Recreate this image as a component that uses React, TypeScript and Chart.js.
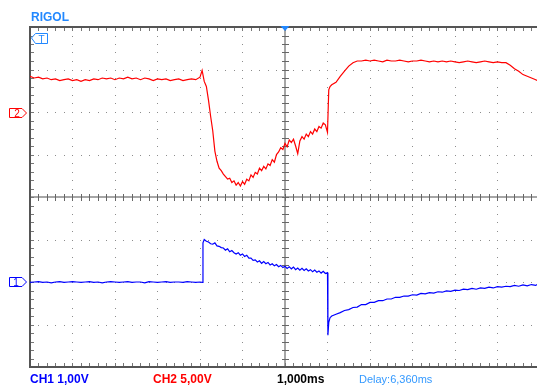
import React, { useEffect, useRef } from "react";
import { Chart, registerables } from "chart.js";

Chart.register(...registerables);

// Time axis in ms (1 ms / div), centre of screen = 0
const X_MIN = -6;
const X_MAX = 5.93;

// CH2 (red, 5 V/div, ground marker at +2 div)
const ch2Time = [
  -6.0, -5.9, -5.8, -5.7, -5.6, -5.5, -5.4, -5.3, -5.2, -5.1,
  -5.0, -4.9, -4.8, -4.7, -4.6, -4.5, -4.4, -4.3, -4.2, -4.1,
  -4.0, -3.9, -3.8, -3.7, -3.6, -3.5, -3.4, -3.3, -3.2, -3.1,
  -3.0, -2.9, -2.8, -2.7, -2.6, -2.5, -2.4, -2.3, -2.2, -2.1,
  -2.0,
  -1.95, -1.9, -1.85, -1.8, -1.75, -1.7, -1.65, -1.6, -1.55, -1.5, -1.45,
  -1.4, -1.35, -1.3, -1.25, -1.2, -1.15, -1.1, -1.05, -1.0, -0.95,
  -0.9, -0.85, -0.8, -0.75, -0.7, -0.65, -0.6, -0.55, -0.5, -0.45,
  -0.4, -0.35, -0.3, -0.25, -0.2, -0.15, -0.1, -0.05, 0.0, 0.05,
  0.1, 0.15, 0.2, 0.25, 0.3, 0.35, 0.4, 0.45, 0.5, 0.55,
  0.6, 0.65, 0.7, 0.75, 0.8, 0.85, 0.9, 0.95, 1.0,
  1.03, 1.06, 1.1,
  1.2, 1.3, 1.4, 1.5, 1.6, 1.7,
  1.8, 1.9, 2.0, 2.1, 2.2, 2.3, 2.4, 2.5, 2.6, 2.7,
  2.8, 2.9, 3.0, 3.1, 3.2, 3.3, 3.4, 3.5, 3.6, 3.7,
  3.8, 3.9, 4.0, 4.1, 4.2, 4.3, 4.4, 4.5, 4.6, 4.7,
  4.8, 4.9, 5.0, 5.1,
  5.2, 5.3, 5.4, 5.5, 5.6, 5.7, 5.8, 5.9, 5.93,
];
const ch2Volts = [
  4.2, 4.0, 4.1, 3.9, 4.0, 3.8, 3.9, 3.7, 3.8, 3.9,
  3.7, 3.8, 3.6, 3.8, 3.7, 3.9, 3.8, 4.0, 3.9, 4.0,
  3.8, 4.0, 3.9, 4.1, 3.9, 4.0, 3.8, 4.0, 3.9, 3.7,
  3.9, 3.8, 3.9, 3.7, 3.8, 3.9, 3.7, 3.8, 3.9, 3.8,
  4.1,
  4.9, 3.6, 3.0, 1.4, -0.5, -2.2, -4.6, -5.8, -6.6, -6.9, -7.3,
  -7.6, -7.9, -7.8, -8.3, -8.1, -8.6, -8.3, -8.7, -8.2, -8.5,
  -7.9, -8.1, -7.4, -7.7, -7.1, -7.3, -6.6, -6.9, -6.4, -6.7,
  -6.1, -6.3, -5.6, -5.9, -5.0, -4.7, -4.2, -4.4, -3.7, -4.1,
  -3.3, -3.6, -3.2, -4.0, -4.9, -3.4, -2.9, -3.2, -2.6, -2.9,
  -2.3, -2.6, -2.0, -2.3, -1.7, -1.9, -1.3, -1.5, -2.4,
  2.6, 3.0, 3.2,
  3.5, 4.2, 4.8, 5.4, 5.8, 6.0,
  6.0, 6.1, 6.0, 6.1, 6.0, 5.9, 6.1, 6.0, 6.0, 6.1,
  6.0, 5.9, 6.0, 6.0, 6.1, 6.0, 5.9, 6.0, 5.9, 6.0,
  5.9, 6.0, 5.9, 5.8, 5.9, 6.0, 5.9, 5.8, 5.9, 6.0,
  5.9, 5.8, 5.9, 5.8,
  5.8, 5.5, 5.1, 4.8, 4.4, 4.2, 4.0, 3.8, 3.7,
];

// CH1 (blue, 1 V/div, ground marker at -2 div)
const ch1Time = [
  -6.0, -5.9, -5.8, -5.7, -5.6, -5.5, -5.4, -5.3, -5.2, -5.1,
  -5.0, -4.9, -4.8, -4.7, -4.6, -4.5, -4.4, -4.3, -4.2, -4.1,
  -4.0, -3.9, -3.8, -3.7, -3.6, -3.5, -3.4, -3.3, -3.2, -3.1,
  -3.0, -2.9, -2.8, -2.7, -2.6, -2.5, -2.4, -2.3, -2.2, -2.1,
  -2.0,
  -1.95, -1.93,
  -1.9, -1.85, -1.8, -1.75, -1.7, -1.65, -1.6, -1.55, -1.5, -1.45,
  -1.4, -1.35, -1.3, -1.25, -1.2, -1.15, -1.1, -1.05, -1.0, -0.95,
  -0.9, -0.85, -0.8, -0.75, -0.7, -0.65, -0.6, -0.55, -0.5, -0.45,
  -0.4, -0.35, -0.3, -0.25, -0.2, -0.15, -0.1, -0.05, 0.0, 0.05,
  0.1, 0.15, 0.2, 0.25, 0.3, 0.35, 0.4, 0.45, 0.5, 0.55,
  0.6, 0.65, 0.7, 0.75, 0.8, 0.85, 0.9, 0.95, 1.0,
  1.01, 1.03, 1.06, 1.1,
  1.2, 1.3, 1.4, 1.5, 1.6, 1.7, 1.8, 1.9, 2.0, 2.1,
  2.2, 2.3, 2.4, 2.5, 2.6, 2.7, 2.8, 2.9, 3.0, 3.1,
  3.2, 3.3, 3.4, 3.5, 3.6, 3.7, 3.8, 3.9, 4.0, 4.1,
  4.2, 4.3, 4.4, 4.5, 4.6, 4.7, 4.8, 4.9, 5.0, 5.1,
  5.2, 5.3, 5.4, 5.5, 5.6, 5.7, 5.8, 5.9, 5.93,
];
const ch1Volts = [
  -0.01, 0.0, 0.01, -0.01, 0.0, -0.02, 0.0, 0.01, -0.01, 0.0,
  0.01, 0.0, -0.01, 0.0, 0.01, -0.01, 0.0, -0.02, 0.0, 0.01,
  0.0, -0.01, 0.0, 0.01, -0.01, 0.0, 0.0, -0.02, 0.01, 0.0,
  -0.01, 0.0, 0.01, -0.01, 0.0, 0.0, -0.01, 0.01, 0.0, -0.01,
  0.0,
  -0.01, 0.92,
  1.0, 0.96, 0.94, 0.9, 0.89, 0.92, 0.85, 0.84, 0.81, 0.8,
  0.75, 0.78, 0.71, 0.74, 0.69, 0.66, 0.69, 0.63, 0.66, 0.6,
  0.63, 0.56, 0.56, 0.51, 0.52, 0.47, 0.5, 0.44, 0.48, 0.43,
  0.46, 0.4, 0.43, 0.38, 0.41, 0.36, 0.39, 0.34, 0.37, 0.32,
  0.36, 0.31, 0.35, 0.29, 0.33, 0.28, 0.32, 0.27, 0.31, 0.26,
  0.29, 0.24, 0.28, 0.23, 0.26, 0.21, 0.25, 0.2, 0.22,
  -1.25, -0.95, -0.84, -0.8,
  -0.76, -0.72, -0.67, -0.65, -0.6, -0.59, -0.53, -0.53, -0.48, -0.48,
  -0.44, -0.44, -0.4, -0.4, -0.36, -0.36, -0.33, -0.33, -0.3, -0.31,
  -0.27, -0.28, -0.25, -0.26, -0.23, -0.24, -0.21, -0.22, -0.19, -0.2,
  -0.17, -0.18, -0.15, -0.17, -0.14, -0.15, -0.12, -0.14, -0.11, -0.12,
  -0.1, -0.11, -0.08, -0.1, -0.07, -0.09, -0.06, -0.08, -0.06,
];

const CH1_COLOR = "#0000ff";
const CH2_COLOR = "#ff0000";
const ACCENT = "#2288ff";

const toPoints = (t: number[], v: number[]) => t.map((x, i) => ({ x, y: v[i] }));

const scopeGrid = {
  id: "scopeGrid",
  beforeDatasetsDraw(chart: any) {
    const { ctx, chartArea: a, scales } = chart;
    const xs = scales.x;
    const ys = scales.y;
    const px = (v: number) => Math.round(xs.getPixelForValue(v));
    const py = (v: number) => Math.round(ys.getPixelForValue(v));
    ctx.save();
    // dotted grid lines
    ctx.fillStyle = "#8c8c8c";
    for (let i = -5; i <= 5; i++) {
      if (i === 0) continue;
      const X = px(i);
      for (let k = -19; k <= 19; k++) ctx.fillRect(X, py(k / 5), 1, 1);
    }
    for (let j = -3; j <= 3; j++) {
      if (j === 0) continue;
      const Y = py(j);
      for (let k = -29; k <= 30; k++) {
        const X = px(k / 5);
        if (X >= a.right) break;
        ctx.fillRect(X, Y, 1, 1);
      }
    }
    // centre cross
    const X0 = px(0);
    const Y0 = py(0);
    ctx.fillStyle = "#a6a6a6";
    ctx.fillRect(X0 - 1, a.top, 2, a.bottom - a.top);
    ctx.fillRect(a.left, Y0 - 1, a.right - a.left, 2);
    ctx.fillStyle = "#666666";
    for (let k = -19; k <= 19; k++) ctx.fillRect(X0 - 3, py(k / 5), 7, 1);
    for (let k = -29; k <= 30; k++) {
      const X = px(k / 5);
      if (X >= a.right) break;
      ctx.fillRect(X, Y0 - 3, 1, 7);
    }
    // border with inner ticks
    ctx.fillStyle = "#555555";
    ctx.fillRect(a.left - 1, a.top - 1, a.right - a.left + 1, 2);
    ctx.fillRect(a.left - 1, a.bottom - 1, a.right - a.left + 1, 2);
    ctx.fillRect(a.left - 1, a.top - 1, 2, a.bottom - a.top + 2);
    ctx.fillStyle = "#777777";
    for (let k = -29; k <= 30; k++) {
      const X = px(k / 5);
      if (X >= a.right) break;
      ctx.fillRect(X, a.top + 1, 1, 3);
      ctx.fillRect(X, a.bottom - 4, 1, 3);
    }
    for (let k = -19; k <= 19; k++) ctx.fillRect(a.left + 1, py(k / 5), 3, 1);
    ctx.restore();
  },
};

export default function App() {
  const ref = useRef<HTMLCanvasElement>(null);
  useEffect(() => {
    document.body.style.margin = "0";
    const chart = new Chart(ref.current as HTMLCanvasElement, {
      type: "line",
      data: {
        datasets: [
          {
            label: "CH2",
            data: toPoints(ch2Time, ch2Volts),
            yAxisID: "yCh2",
            borderColor: CH2_COLOR,
            borderWidth: 1.2,
            pointRadius: 0,
            tension: 0,
          },
          {
            label: "CH1",
            data: toPoints(ch1Time, ch1Volts),
            yAxisID: "yCh1",
            borderColor: CH1_COLOR,
            borderWidth: 1.2,
            pointRadius: 0,
            tension: 0,
          },
        ],
      },
      options: {
        responsive: false,
        animation: false,
        layout: { padding: { left: 30, top: 27, right: 0, bottom: 20 } },
        plugins: { legend: { display: false }, tooltip: { enabled: false } },
        scales: {
          x: { type: "linear", min: X_MIN, max: X_MAX, display: false },
          y: { type: "linear", min: -4, max: 4, display: false },
          yCh1: { type: "linear", min: -2, max: 6, display: false },
          yCh2: { type: "linear", min: -30, max: 10, display: false },
        },
      },
      plugins: [scopeGrid],
    });
    return () => chart.destroy();
  }, []);

  const font = "'Liberation Sans', Arial, sans-serif";
  const label = (left: number, top: number, color: string, text: string, bold = true, size = 12) => (
    <div
      style={{
        position: "absolute",
        left,
        top,
        color,
        fontFamily: font,
        fontWeight: bold ? "bold" : "normal",
        fontSize: size,
        lineHeight: `${size}px`,
        whiteSpace: "nowrap",
      }}
    >
      {text}
    </div>
  );

  return (
    <div style={{ position: "relative", width: 537, height: 387, background: "#fff", overflow: "hidden" }}>
      <canvas ref={ref} width={537} height={387} style={{ position: "absolute", left: 0, top: 0 }} />
      <svg width={537} height={387} style={{ position: "absolute", left: 0, top: 0, pointerEvents: "none" }}>
        <polygon points="9.5,108.5 22,108.5 26.5,113 22,117.5 9.5,117.5" fill="#fff" stroke={CH2_COLOR} strokeWidth={1} />
        <text x={17} y={116.5} fontSize={10} fontFamily={font} fill={CH2_COLOR} textAnchor="middle">2</text>
        <polygon points="9.5,277.5 22,277.5 26.5,282 22,286.5 9.5,286.5" fill="#fff" stroke={CH1_COLOR} strokeWidth={1} />
        <text x={16} y={285.5} fontSize={10} fontFamily={font} fill={CH1_COLOR} textAnchor="middle">1</text>
        <polygon points="31.5,38 35.5,33.5 47.5,33.5 47.5,43.5 35.5,43.5" fill="#fff" stroke={ACCENT} strokeWidth={1} />
        <text x={41.5} y={42.5} fontSize={10} fontFamily={font} fill={ACCENT} textAnchor="middle">T</text>
        <polygon points="280.5,26 289.5,26 285,31" fill={ACCENT} />
      </svg>
      {label(31, 11, ACCENT, "RIGOL")}
      {label(30, 373, CH1_COLOR, "CH1 1,00V")}
      {label(153, 373, CH2_COLOR, "CH2 5,00V")}
      {label(277, 373, "#000000", "1,000ms")}
      {label(359, 374, "#3399ff", "Delay:6,360ms", false, 11)}
    </div>
  );
}
